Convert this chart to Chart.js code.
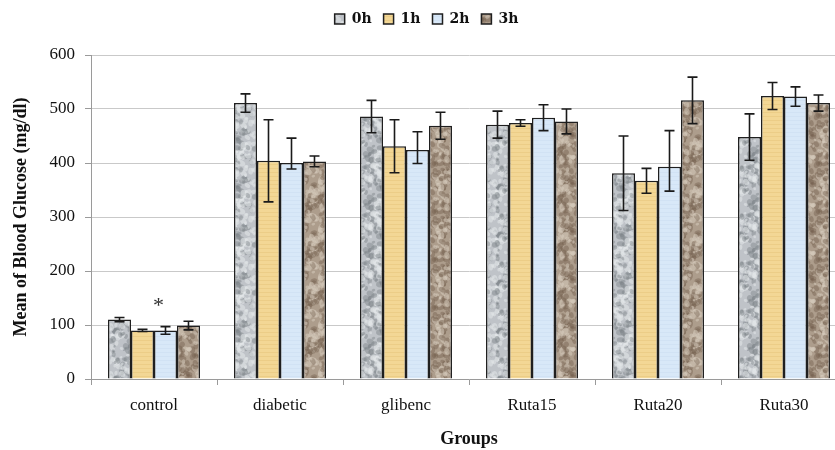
<!DOCTYPE html>
<html>
<head>
<meta charset="utf-8">
<script src="https://cdn.jsdelivr.net/npm/chart.js@4/dist/chart.umd.min.js"></script>
<style>
  html, body { margin: 0; padding: 0; background: #fff; overflow: hidden; width: 835px; height: 450px; }
  #wrap { width: 850px; height: 450px; position: relative; }
</style>
</head>
<body>
<div id="wrap"><canvas id="c" width="850" height="450"></canvas></div>
<script>
// Mean blood glucose (mg/dl) per group, measured at 0, 1, 2 and 3 hours
const groups = ['control', 'diabetic', 'glibenc', 'Ruta15', 'Ruta20', 'Ruta30'];
const hours = ['0h', '1h', '2h', '3h'];

const glucose0h = [110, 511, 486, 471, 381, 448];
const glucose1h = [90, 404, 431, 474, 367, 524];
const glucose2h = [90, 400, 424, 484, 393, 523];
const glucose3h = [99, 403, 469, 477, 516, 511];

// error bar extents above / below each mean
const errUp0h = [4, 17, 30, 25, 69, 43];
const errDown0h = [4, 17, 30, 25, 69, 43];
const errUp1h = [2, 76, 49, 6, 23, 25];
const errDown1h = [2, 76, 49, 6, 23, 25];
const errUp2h = [7, 46, 34, 24, 67, 18];
const errDown2h = [7, 11, 25, 24, 45, 18];
const errUp3h = [8, 10, 25, 23, 43, 15];
const errDown3h = [8, 10, 25, 23, 43, 15];

// significance marker
const markGroup = 'control';
const markText = '*';

const yTicks = [0, 100, 200, 300, 400, 500, 600];

// ---- fill textures ----
function hash(n) {
  const s = Math.sin(n * 12.9898 + 78.233) * 43758.5453;
  return s - Math.floor(s);
}
function mottled(base, dark, light, seed) {
  const size = 48;
  const cv = document.createElement('canvas');
  cv.width = size; cv.height = size;
  const g = cv.getContext('2d');
  g.fillStyle = base;
  g.fillRect(0, 0, size, size);
  for (let i = 0; i < 160; i++) {
    const x = hash(seed + i * 3.1) * size;
    const y = hash(seed + i * 7.7 + 1.3) * size;
    const r = 1.0 + hash(seed + i * 5.3 + 2.9) * 2.0;
    g.fillStyle = hash(seed + i * 11.1) > 0.5 ? dark : light;
    for (const dx of [-size, 0, size]) {
      for (const dy of [-size, 0, size]) {
        g.beginPath();
        g.ellipse(x + dx, y + dy, r * 1.4, r, hash(i + seed) * 3, 0, Math.PI * 2);
        g.fill();
      }
    }
  }
  return g.createPattern(cv, 'repeat');
}
function lined(base, line) {
  const cv = document.createElement('canvas');
  cv.width = 8; cv.height = 4;
  const g = cv.getContext('2d');
  g.fillStyle = base;
  g.fillRect(0, 0, 8, 4);
  g.fillStyle = line;
  g.fillRect(0, 0, 8, 1);
  return g.createPattern(cv, 'repeat');
}

const fill0h = mottled('#bfc3c8', 'rgba(125,130,136,0.45)', 'rgba(228,231,234,0.55)', 3);
const fill1h = lined('#f3d795', '#eccd87');
const fill2h = lined('#d8e8f8', '#d1e2f4');
const fill3h = mottled('#ad9d8c', 'rgba(118,98,80,0.45)', 'rgba(214,202,188,0.55)', 17);

const values = [glucose0h, glucose1h, glucose2h, glucose3h];
const ups = [errUp0h, errUp1h, errUp2h, errUp3h];
const downs = [errDown0h, errDown1h, errDown2h, errDown3h];
const fills = [fill0h, fill1h, fill2h, fill3h];

const serif = "'Liberation Serif', 'Times New Roman', serif";

// extra room under the legend row
const legendRoom = {
  id: 'legendRoom',
  beforeInit(chart) {
    const lg = chart.legend;
    if (!lg) return;
    const fit = lg.fit.bind(lg);
    lg.fit = function () {
      fit();
      this.height = 55;
    };
  }
};

// error bars drawn from each bar's own position and the value scale
const errorBars = {
  id: 'errorBars',
  afterDatasetsDraw(chart) {
    const ctx = chart.ctx;
    const y = chart.scales.y;
    ctx.save();
    ctx.strokeStyle = '#1a1a1a';
    ctx.lineWidth = 1.6;
    chart.data.datasets.forEach((ds, di) => {
      const meta = chart.getDatasetMeta(di);
      meta.data.forEach((bar, i) => {
        const v = ds.data[i];
        const yt = y.getPixelForValue(v + ups[di][i]);
        const yb = y.getPixelForValue(v - downs[di][i]);
        const cap = 5;
        ctx.beginPath();
        ctx.moveTo(bar.x, yt); ctx.lineTo(bar.x, yb);
        ctx.moveTo(bar.x - cap, yt); ctx.lineTo(bar.x + cap, yt);
        ctx.moveTo(bar.x - cap, yb); ctx.lineTo(bar.x + cap, yb);
        ctx.stroke();
      });
    });
    // significance star above the group
    const gi = groups.indexOf(markGroup);
    const b = chart.getDatasetMeta(2).data[gi];
    const top = y.getPixelForValue(glucose2h[gi] + errUp2h[gi]);
    ctx.fillStyle = '#333';
    ctx.font = '22px ' + serif;
    ctx.textAlign = 'center';
    ctx.textBaseline = 'middle';
    ctx.fillText(markText, b.x - 7, top - 20);
    ctx.restore();
  }
};

new Chart(document.getElementById('c'), {
  type: 'bar',
  data: {
    labels: groups,
    datasets: hours.map((h, k) => ({
      label: h,
      data: values[k],
      backgroundColor: fills[k],
      borderColor: '#1f1f1f',
      borderWidth: 1.5,
      borderSkipped: 'bottom',
      categoryPercentage: 0.73,
      barPercentage: 1.0
    }))
  },
  options: {
    responsive: false,
    animation: false,
    devicePixelRatio: 1,
    layout: { padding: { left: 6, right: 3, top: 0, bottom: 0 } },
    plugins: {
      legend: {
        position: 'top',
        align: 'center',
        labels: {
          boxWidth: 10,
          boxHeight: 10,
          padding: 12,
          color: '#111',
          font: { family: "'DejaVu Serif', serif", size: 14, weight: 'bold' }
        }
      },
      tooltip: { enabled: false }
    },
    scales: {
      x: {
        grid: {
          offset: true,
          drawOnChartArea: false,
          drawTicks: true,
          tickLength: 6,
          color: '#9a9a9a'
        },
        border: { color: '#9a9a9a', width: 1 },
        ticks: {
          color: '#111',
          padding: 10,
          font: { family: serif, size: 17 }
        },
        title: {
          display: true,
          text: 'Groups',
          color: '#111',
          font: { family: serif, size: 18, weight: 'bold' },
          padding: { top: 10, bottom: 0 }
        },
        afterFit(scale) { scale.height = 71; }
      },
      y: {
        min: 0,
        max: 600,
        afterBuildTicks(scale) { scale.ticks = yTicks.map(v => ({ value: v })); },
        grid: {
          color: '#c9c9c9',
          lineWidth: 1,
          drawTicks: true,
          tickLength: 6,
          tickColor: '#9a9a9a'
        },
        border: { color: '#9a9a9a', width: 1 },
        ticks: {
          color: '#111',
          padding: 10,
          font: { family: serif, size: 17 }
        },
        title: {
          display: true,
          text: 'Mean of Blood Glucose (mg/dl)',
          color: '#111',
          font: { family: serif, size: 18, weight: 'bold' },
          padding: { top: 5, bottom: 4 }
        },
        afterFit(scale) { scale.width = 85; }
      }
    }
  },
  plugins: [legendRoom, errorBars]
});
</script>
</body>
</html>
